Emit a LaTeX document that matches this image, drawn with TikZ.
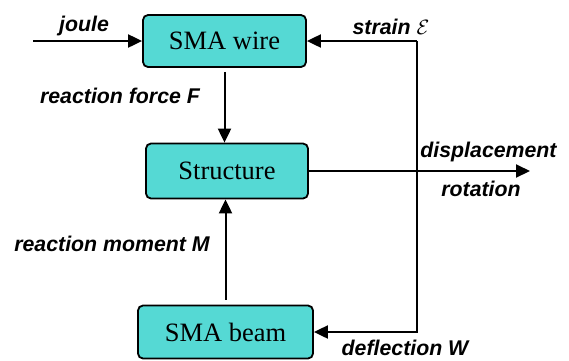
\documentclass[tikz,border=0pt]{standalone}
\usepackage{fontspec}
\setmainfont{Liberation Serif}
\setsansfont{Liberation Sans}
\usetikzlibrary{arrows.meta}
\definecolor{boxcyan}{RGB}{85,217,212}

\begin{document}
\begin{tikzpicture}[x=1pt,y=-1pt,
  blk/.style={draw,line width=1.8pt,rounded corners=5pt,fill=boxcyan,inner sep=0pt,font=\fontsize{26.5}{30}\selectfont},
  lbl/.style={inner sep=0pt,font=\fontsize{21.3}{24}\selectfont\sffamily\bfseries\itshape},
  arr/.style={-{Triangle[length=14pt,width=13pt]},line width=2pt}
]
\useasboundingbox (0,0) rectangle (569,360);

\node[blk,minimum width=163pt,minimum height=52pt] (wire) at (224.5,41) {SMA wire};
\node[blk,minimum width=162pt,minimum height=55pt] (struct) at (227,171) {Structure};
\node[blk,minimum width=175pt,minimum height=53pt] (beam) at (225.5,332) {SMA beam};

\coordinate (jin) at (33,41);
\coordinate (fbtop) at (417,41);
\coordinate (fbbot) at (417,332);
\coordinate (out) at (530,171);

\draw[arr] (jin) -- (wire.west);
\draw[arr,shorten <=4pt] (wire.south) -- (wire.south |- struct.north);
\draw[arr,shorten <=5pt] (beam.north) -- (beam.north |- struct.south);
\draw[arr] (struct.east) -- (out);
\draw[arr] (fbtop) -- (wire.east);
\draw[arr] (fbtop) -- (fbbot) -- (beam.east);

\node[lbl] (joule) at (84,26) {joule};
\node[lbl] (force) at (120,96) {reaction force F};
\node[lbl] (strain) at (391,27) {strain\hspace{6pt}$\mathcal{E}$};
\node[lbl] (disp) at (488.5,152) {displacement};
\node[lbl] (rot) at (481,189) {rotation};
\node[lbl] (moment) at (112,244) {reaction moment M};
\node[lbl] (defl) at (405,348) {deflection W};
\end{tikzpicture}
\end{document}
